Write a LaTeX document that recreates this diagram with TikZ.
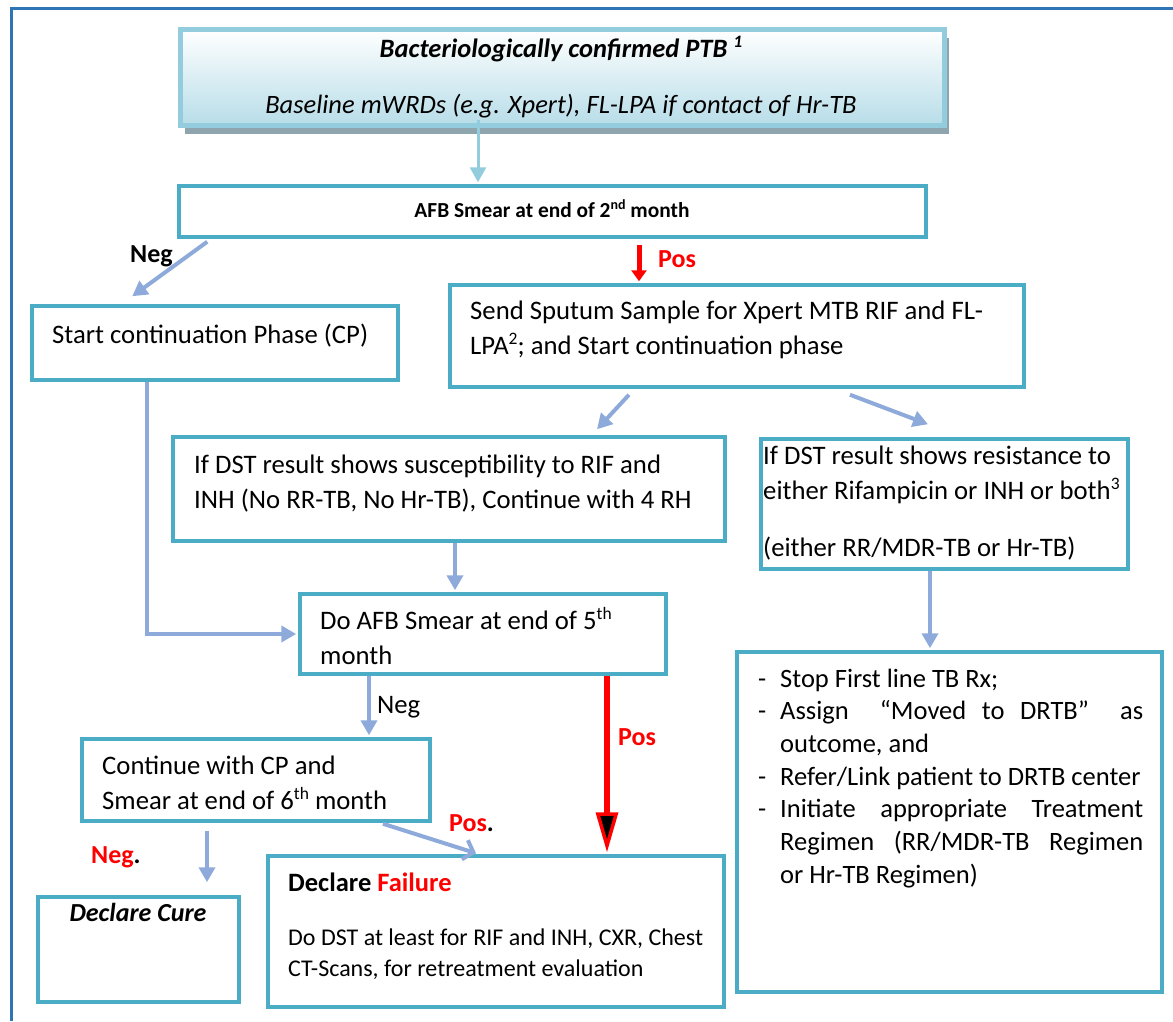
\documentclass[tikz,border=0pt]{standalone}
\usepackage{fontspec}
\setmainfont{Carlito}
\usetikzlibrary{arrows.meta,calc,shadows}

\definecolor{framebl}{HTML}{2E75B6}
\definecolor{boxbd}{HTML}{4BACC6}
\definecolor{topbd}{HTML}{93CDDD}
\definecolor{topfill}{HTML}{B7DDE8}
\definecolor{shadowg}{HTML}{8FA5AD}
\definecolor{arrbl}{HTML}{8EAADB}

% raised small text for ordinals and footnote marks
\newcommand\supx[2][17.5]{\raisebox{0.36em}{\fontsize{#1}{#1}\selectfont #2}}
% box with its border centreline given by two corners
\newcommand\chartbox[6][]{%
  \node[box,#1,minimum width={#5pt-#3pt},minimum height={#6pt-#4pt}]
    (#2) at ({(#3+#5)/2},{(#4+#6)/2}) {};}
% dash item with hanging indent
\newcommand\ditem[1]{\hangindent=22pt\hangafter=1\noindent\makebox[22pt][l]{-}#1\par}

\begin{document}
\begin{tikzpicture}[x=1pt,y=-1pt,
  box/.style={draw=boxbd,line width=3.5pt,fill=white,inner sep=0pt},
  topbox/.style={draw=topbd,line width=5pt,top color=white,bottom color=topfill,
    drop shadow={shadow xshift=4pt,shadow yshift=-8pt,fill=shadowg,opacity=1}},
  txt/.style={inner sep=0pt,anchor=base west,font=\fontsize{26.7}{35}\selectfont},
  lbl/.style={inner sep=0pt,anchor=base west,font=\fontsize{26}{30}\selectfont\bfseries},
  flow/.style={draw=arrbl,line width=4pt,-{Triangle[length=15pt,width=16pt]}},
  redflow/.style={draw=red,line width=5pt,-{Triangle[length=11pt,width=15pt]}},
  bigred/.style={draw=red,line width=6pt,
    -{Triangle[length=40pt,width=22pt,fill=black,line width=3.5pt]}},
  barbflow/.style={draw=arrbl,line width=4pt,-{Straight Barb[length=9pt,width=20pt]}},
]
\useasboundingbox (0,0) rectangle (1173,1021);

% page frame (top and left edges)
\draw[framebl,line width=3pt] (11.5,1021) -- (11.5,8) -- (1173,8);

% boxes
\chartbox[topbox]{top}{180.5}{29.5}{944.5}{125.5}
\chartbox{afb}{179}{186}{926}{237}
\chartbox{startcp}{32}{306}{398}{380}
\chartbox{sputum}{450}{285}{1024}{387}
\chartbox{suscept}{173}{437}{725}{541}
\chartbox{resist}{761}{439}{1128}{569}
\chartbox{doafb}{300}{594}{666}{674}
\chartbox{contcp}{82}{739}{430}{821}
\chartbox{cure}{38}{897}{239}{1002}
\chartbox{failure}{268}{856}{724}{1007}
\chartbox{drtb}{737}{652}{1162}{992}

% box texts
\node[txt,anchor=base,font=\fontsize{26.5}{30}\selectfont\bfseries\itshape] (t-top1) at (561,57)
  {Bacteriologically confirmed PTB \supx[17.5]{1}};
\node[txt,anchor=base,font=\fontsize{26.5}{30}\selectfont\itshape] (t-top2) at (561,113)
  {Baseline mWRDs (e.g. Xpert), FL-LPA if contact of Hr-TB};
\node[txt,anchor=base,font=\fontsize{21.4}{26}\selectfont\bfseries] (t-afb) at (552,217)
  {AFB Smear at end of 2\supx[14]{nd} month};
\node[txt] (t-startcp) at (52,343) {Start continuation Phase (CP)};
\node[txt] (t-sputum) at (470,319) {\parbox[t]{580pt}{\raggedright
  Send Sputum Sample for Xpert MTB RIF and FL-\\LPA\supx{2}; and Start continuation phase}};
\node[txt] (t-suscept) at (194,473) {\parbox[t]{560pt}{\raggedright
  If DST result shows susceptibility to RIF and\\INH (No RR-TB, No Hr-TB), Continue with 4 RH}};
\node[txt] (t-resist) at (763,464) {\parbox[t]{380pt}{\raggedright
  If DST result shows resistance to\\either Rifampicin or INH or both\supx{3}\\[22pt](either RR/MDR-TB or Hr-TB)}};
\node[txt] (t-doafb) at (320,629) {\parbox[t]{360pt}{\raggedright
  Do AFB Smear at end of 5\supx{th}\\month}};
\node[txt] (t-contcp) at (102,774) {\parbox[t]{340pt}{\raggedright
  Continue with CP and\\Smear at end of 6\supx{th} month}};
\node[txt,font=\fontsize{26.5}{35}\selectfont\bfseries] (t-fail1) at (288,891)
  {Declare \textcolor{red}{Failure}};
\node[txt,font=\fontsize{24}{31.5}\selectfont] (t-fail2) at (288,945) {\parbox[t]{430pt}{\raggedright
  Do DST at least for RIF and INH, CXR, Chest\\CT-Scans, for retreatment evaluation}};
\node[txt,anchor=base,font=\fontsize{26}{30}\selectfont\bfseries\itshape] (t-cure) at (138,921)
  {Declare Cure};
\node[txt,font=\fontsize{26.5}{32.7}\selectfont] (t-drtb) at (758,687) {\parbox[t]{385pt}{%
  \setlength{\parindent}{0pt}%
  \ditem{Stop First line TB Rx;}
  \ditem{Assign \ “Moved to DRTB” \ as\linebreak outcome, and}
  \ditem{Refer/Link patient to DRTB center}
  \ditem{Initiate appropriate Treatment\linebreak Regimen (RR/MDR-TB Regimen\linebreak or Hr-TB Regimen)}}};

% connectors
\draw[draw=topbd,line width=3pt,-{Triangle[length=15pt,width=16pt]}]
  ($(top.south)+(-84.5,-8)$) -- ($(afb.north)+(-74.5,-2)$);
\draw[flow] ($(afb.south west)+(30,3)$) -- ($(startcp.north west)+(102,-8)$);
\node[lbl] (l-neg1) at (130,262) {Neg};
\draw[redflow] ($(afb.south)+(86.5,6)$) -- ($(sputum.north)+(-98,-2)$);
\node[lbl,text=red] (l-pos1) at (658,267) {Pos};
\draw[flow] ($(sputum.south)+(-108,6)$) -- ($(suscept.north)+(148,-6)$);
\draw[flow] ($(sputum.south)+(113,6)$) -- ($(resist.north)+(-16.5,-13)$);
\draw[flow] ($(suscept.south)+(6,0)$) -- ($(doafb.north)+(-28,-2)$);
\draw[flow] ($(resist.south)+(-14.5,0)$) -- ($(drtb.north)+(-19.5,-2)$);
\draw[flow] ($(startcp.south)+(-68,0)$) |- ($(doafb.west)+(-2,0)$);
\draw[flow] ($(doafb.south)+(-114,0)$) -- ($(contcp.north)+(113,-2)$);
\node[txt] (l-neg2) at (377,713) {Neg};
\draw[bigred] ($(doafb.south)+(124,0)$) -- ($(failure.north)+(111,-2)$);
\node[lbl,text=red] (l-pos2) at (618,745) {Pos};
\draw[flow] ($(contcp.south)+(-49,8)$) -- ($(cure.north)+(68.5,-13)$);
\node[lbl] (l-neg3) at (91,863) {\textcolor{red}{Neg}.};
\draw[barbflow] ($(contcp.south)+(127,1)$) -- ($(failure.north)+(-20,-1)$);
\node[lbl] (l-pos3) at (449,831) {\textcolor{red}{Pos}.};
\end{tikzpicture}
\end{document}
